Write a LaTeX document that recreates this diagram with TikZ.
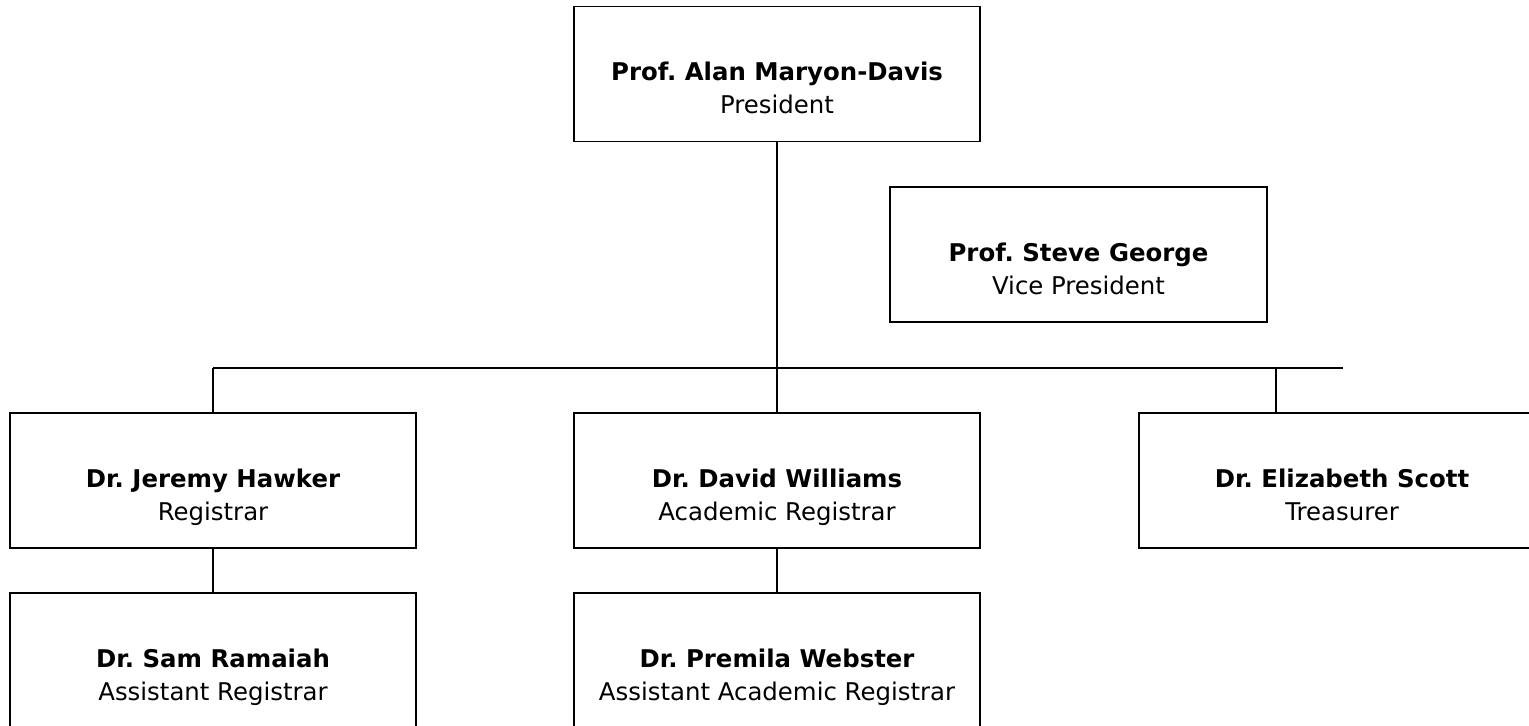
\documentclass[tikz,border=0pt]{standalone}
\usepackage{fontspec}
\setmainfont{DejaVu Sans}
\frenchspacing
\usetikzlibrary{positioning}

% name in bold, role below, with an empty first line
\newcommand{\postname}[2]{\strut\\\textbf{#1}\strut\\#2\strut}

\begin{document}
\begin{tikzpicture}[
        x=0.5pt, y=-0.5pt,
        line width=0.75pt,
        post/.style={
            draw, rectangle, align=center,
            minimum width=203pt, minimum height=67.5pt,
            inner sep=0pt,
            font=\fontsize{12.2}{16.5}\selectfont
        }]

        \clip (0,0) rectangle (1529,725);

        % top
        \node[post] (pres) at (777,74) {\postname{Prof. Alan Maryon-Davis}{President}};
        \node[post, minimum width=188.5pt] (vice) at (1078.5,254.5) {\postname{Prof. Steve George}{Vice President}};

        % second row
        \node[post] (reg) at (213,480.5) {\postname{Dr. Jeremy Hawker}{Registrar}};
        \node[post] (acad) at (777,480.5) {\postname{Dr. David Williams}{Academic Registrar}};
        \node[post] (treas) at (1342,480.5) {\postname{Dr. Elizabeth Scott}{Treasurer}};

        % third row
        \node[post] (asreg) at (213,660.5) {\postname{Dr. Sam Ramaiah}{Assistant Registrar}};
        \node[post] (asacad) at (777,660.5) {\postname{Dr. Premila Webster}{Assistant Academic Registrar}};

        \coordinate (busL) at (213,368);
        \coordinate (busR) at (1343,368);
        \coordinate (busT) at (1276,368);

        \draw (pres.south) -- (acad.north);
        \draw (busL) -- (busR);
        \draw (busL) -- (reg.north);
        \draw (busT) -- (busT |- treas.north);
        \draw (reg.south) -- (asreg.north);
        \draw (acad.south) -- (asacad.north);
    \end{tikzpicture}
\end{document}
